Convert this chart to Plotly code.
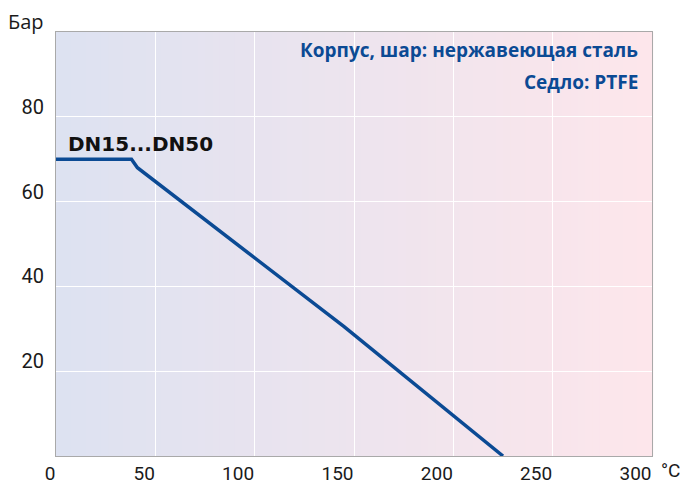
import plotly.graph_objects as go

# Data
temperature_c = [0, 38, 41, 145, 225]
pressure_bar = [70, 70, 68, 30.5, 0]

x_tickvals = [0, 50, 100, 150, 200, 250, 300]
x_ticktext = ["0", "50", "100", "150", "200", "250", "300"]
y_tickvals = [20, 40, 60, 80]
y_ticktext = ["20", "40", "60", "80"]

series_label = "DN15...DN50"
note_line1 = "Корпус, шар: нержавеющая сталь"
note_line2 = "Седло: PTFE"
y_unit = "Бар"
x_unit = "°C"

TICK_FONT = "Liberation Sans Narrow, Roboto, sans-serif"

fig = go.Figure()
fig.add_trace(go.Scatter(
    x=temperature_c, y=pressure_bar, mode="lines",
    line=dict(color="#0b4a94", width=3.5), hoverinfo="skip", showlegend=False,
))

# gradient background
n = 80
c0 = (221, 226, 241)
c1 = (253, 230, 235)
shapes = []
for i in range(n):
    t = i / (n - 1)
    col = tuple(round(c0[k] + (c1[k] - c0[k]) * t) for k in range(3))
    shapes.append(dict(
        type="rect", xref="x domain", yref="y domain",
        x0=i / n, x1=(i + 1) / n + 0.002, y0=0, y1=1,
        fillcolor="rgb(%d,%d,%d)" % col, line=dict(width=0), layer="below",
    ))

L, R, T, B = 56, 31, 32, 29
PW = 683 - L - R
PH = 485 - T - B


def px(xp):
    return (xp - L) / PW


def py(yp):
    return (485 - B - yp) / PH


fig.update_layout(
    width=683, height=485,
    margin=dict(l=L, r=R, t=T, b=B, autoexpand=False),
    paper_bgcolor="white", plot_bgcolor="rgba(0,0,0,0)",
    shapes=shapes,
    font=dict(family="Open Sans", size=16, color="#1a1a1a"),
    xaxis=dict(
        range=[0, 300], tickvals=x_tickvals, ticktext=x_ticktext,
        showgrid=True, gridcolor="white", gridwidth=1,
        showline=True, linecolor="#a9a9a9", linewidth=1, mirror=True,
        ticks="", zeroline=False, ticklabelposition="outside left",
        ticklabelstandoff=0,
        tickfont=dict(family=TICK_FONT, size=19, color="#1a1a1a"), automargin=False,
    ),
    yaxis=dict(
        range=[0, 100], tickvals=y_tickvals, ticktext=y_ticktext,
        showgrid=True, gridcolor="white", gridwidth=1,
        showline=True, linecolor="#a9a9a9", linewidth=1, mirror=True,
        ticks="", zeroline=False, ticklabelposition="outside top",
        ticklabelstandoff=7, ticklabelshift=4,
        tickfont=dict(family=TICK_FONT, size=20, color="#1a1a1a"), automargin=False,
    ),
    annotations=[
        dict(text=series_label, xref="paper", yref="paper", x=px(66), y=py(144),
             xanchor="left", yanchor="middle", showarrow=False,
             font=dict(family="DejaVu Sans", size=20, color="#111111", weight="bold")),
        dict(text=note_line1, xref="paper", yref="paper", x=px(640), y=py(50),
             xanchor="right", yanchor="middle", showarrow=False,
             font=dict(family="Open Sans", size=19, color="#0b4a94", weight="bold")),
        dict(text=note_line2, xref="paper", yref="paper", x=px(640), y=py(82),
             xanchor="right", yanchor="middle", showarrow=False,
             font=dict(family="Open Sans", size=19, color="#0b4a94", weight="bold")),
        dict(text=y_unit, xref="paper", yref="paper", x=px(6), y=py(21),
             xanchor="left", yanchor="middle", showarrow=False,
             font=dict(family="Open Sans", size=20, color="#1a1a1a")),
        dict(text=x_unit, xref="paper", yref="paper", x=px(682), y=py(470),
             xanchor="right", yanchor="middle", showarrow=False,
             font=dict(family=TICK_FONT, size=19, color="#1a1a1a")),
    ],
)

fig.write_html("out.html", config={"displayModeBar": False},
               post_script="document.body.style.margin='0';")
